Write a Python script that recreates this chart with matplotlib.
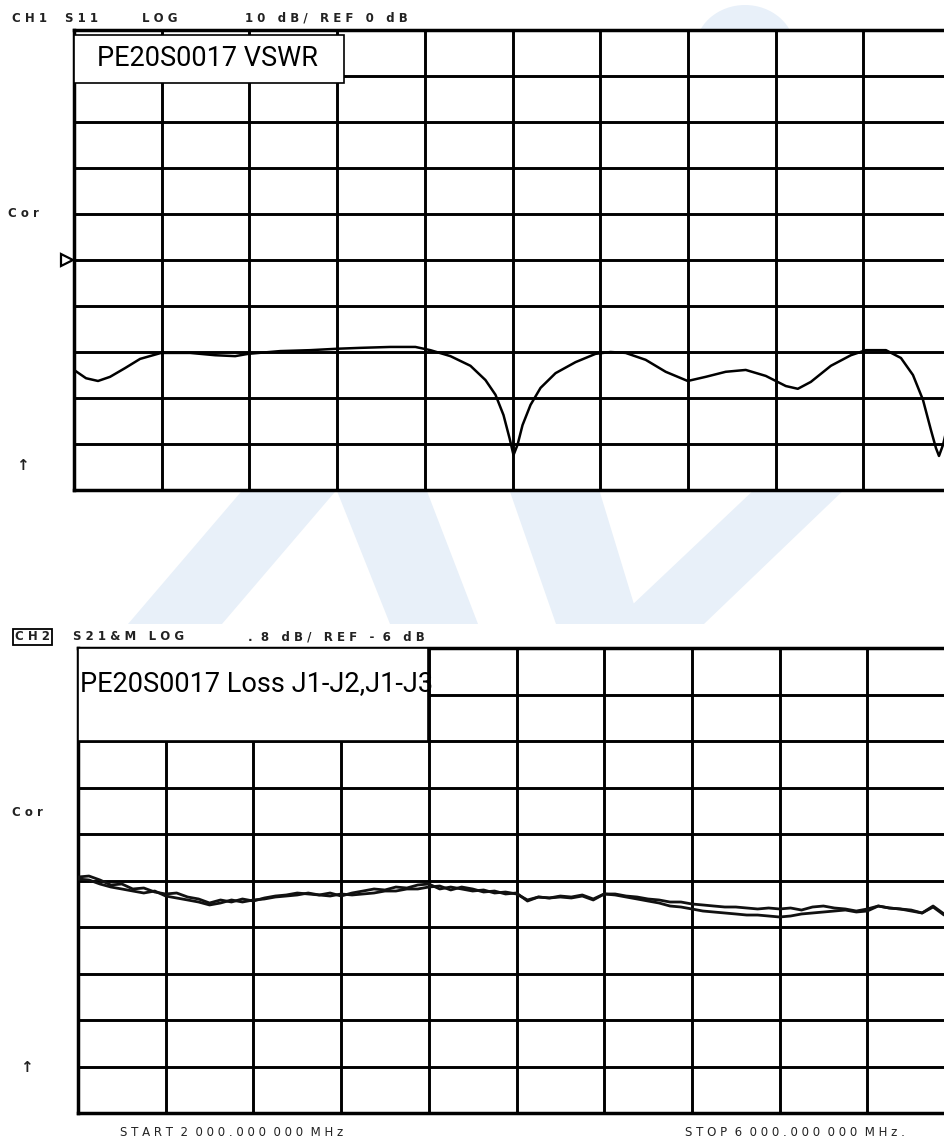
import matplotlib
matplotlib.use("Agg")
import matplotlib.pyplot as plt
from matplotlib.patches import Rectangle, Polygon, Ellipse

# ---------------- data ----------------
# CH1: S11 LOG, 10 dB/div, REF 0 dB
S11_FREQ_MHZ = [2000.0, 2054.8, 2109.6, 2164.4, 2232.9, 2301.4, 2397.3, 2529.7, 2643.8, 2735.2,
                2794.5, 2940.6, 3077.6, 3196.3, 3305.9, 3442.9, 3557.1, 3625.6, 3716.9, 3808.2,
                3876.7, 3922.4, 3958.9, 3986.3, 4004.6, 4022.8, 4045.7, 4082.2, 4127.9, 4196.3,
                4287.7, 4379.0, 4447.5, 4516.0, 4607.3, 4698.6, 4799.1, 4881.3, 4972.6, 5063.9,
                5155.3, 5246.6, 5301.4, 5360.7, 5452.1, 5543.4, 5611.9, 5703.2, 5771.7, 5826.5,
                5872.1, 5908.7, 5931.5, 5945.2, 5963.5, 5981.7]
S11_DB = [-23.9, -25.7, -26.3, -25.4, -23.5, -21.5, -20.2, -20.2, -20.7, -20.9,
          -20.4, -19.8, -19.6, -19.3, -19.1, -18.9, -18.9, -19.6, -20.9, -23.0,
          -26.1, -29.3, -33.7, -38.7, -42.4, -40.2, -35.9, -31.5, -27.8, -24.6,
          -22.2, -20.4, -20.0, -20.2, -21.7, -24.3, -26.3, -25.4, -24.3, -23.9,
          -25.2, -27.4, -28.0, -26.5, -23.0, -20.7, -19.6, -19.6, -21.3, -25.0,
          -30.4, -37.0, -40.9, -42.6, -40.2, -36.5]

# CH2: S21 LOG, .8 dB/div, REF -6 dB, two traces (J1-J2, J1-J3)
S21_FREQ_MHZ = list(range(2000, 6001, 50))
S21_J1J2_DB = [-5.940, -5.923, -5.991, -6.077, -6.060, -6.146, -6.129, -6.198, -6.232, -6.215,
               -6.284, -6.318, -6.387, -6.335, -6.370, -6.318, -6.353, -6.301, -6.267, -6.249,
               -6.215, -6.232, -6.249, -6.215, -6.267, -6.215, -6.181, -6.146, -6.163, -6.112,
               -6.129, -6.077, -6.060, -6.146, -6.112, -6.146, -6.181, -6.163, -6.215, -6.198,
               -6.232, -6.335, -6.284, -6.301, -6.267, -6.284, -6.249, -6.318, -6.232, -6.232,
               -6.267, -6.284, -6.318, -6.335, -6.370, -6.370, -6.404, -6.421, -6.439, -6.456,
               -6.456, -6.473, -6.490, -6.473, -6.490, -6.473, -6.508, -6.456, -6.439, -6.473,
               -6.490, -6.525, -6.490, -6.439, -6.473, -6.490, -6.508, -6.559, -6.439, -6.576,
               -6.542]
S21_J1J3_DB = [-5.974, -5.991, -6.060, -6.112, -6.146, -6.181, -6.215, -6.181, -6.267, -6.301,
               -6.335, -6.370, -6.421, -6.387, -6.335, -6.370, -6.335, -6.318, -6.284, -6.267,
               -6.249, -6.215, -6.249, -6.267, -6.232, -6.249, -6.232, -6.215, -6.181, -6.181,
               -6.146, -6.146, -6.112, -6.095, -6.163, -6.112, -6.146, -6.198, -6.181, -6.232,
               -6.215, -6.353, -6.284, -6.301, -6.284, -6.301, -6.267, -6.335, -6.232, -6.249,
               -6.284, -6.318, -6.353, -6.387, -6.439, -6.456, -6.490, -6.525, -6.542, -6.559,
               -6.576, -6.594, -6.594, -6.611, -6.628, -6.611, -6.576, -6.559, -6.542, -6.525,
               -6.508, -6.542, -6.525, -6.439, -6.473, -6.490, -6.525, -6.559, -6.456, -6.594,
               -6.559]

START_MHZ, STOP_MHZ = 2000, 6000
N_DIV = 10
CH1_REF, CH1_SCALE = 0.0, 10.0
CH2_REF, CH2_SCALE = -6.0, 0.8

TITLE_CH1 = "PE20S0017 VSWR"
TITLE_CH2 = "PE20S0017 Loss J1-J2,J1-J3"

# ---------------- figure ----------------
W, H = 945, 1142
fig = plt.figure(figsize=(W / 100, H / 100), dpi=100)
fig.patch.set_facecolor("white")


def fx(x):
    return x / W


def fy(y):
    return 1 - y / H


def pt(x, y):
    return (fx(x), fy(y))


# watermark (light blue logo shapes, behind axes)
wm = "#e8f0f9"
for poly in [
    [(128, 624), (222, 624), (340, 486), (246, 486)],
    [(335, 486), (425, 486), (478, 624), (390, 624)],
    [(508, 486), (598, 486), (640, 624), (556, 624)],
    [(612, 624), (704, 624), (848, 486), (758, 486)],
]:
    fig.add_artist(Polygon([pt(*p) for p in poly], closed=True, facecolor=wm,
                           edgecolor="none", transform=fig.transFigure, zorder=-5))
fig.add_artist(Ellipse(pt(745, 50), fx(100) - fx(0), fy(0) - fy(90), facecolor=wm,
                       edgecolor="none", transform=fig.transFigure, zorder=-5))


def make_axes(x0, y_top, y_bot, ref, scale):
    ax = fig.add_axes([fx(x0), fy(y_bot), fx(x0 + 87.7 * N_DIV) - fx(x0), fy(y_top) - fy(y_bot)])
    ax.set_facecolor("white")
    ax.set_xlim(START_MHZ, STOP_MHZ)
    lo = ref - scale * N_DIV / 2
    hi = ref + scale * N_DIV / 2
    ax.set_ylim(lo, hi)
    step = (STOP_MHZ - START_MHZ) / N_DIV
    ax.set_xticks([START_MHZ + i * step for i in range(N_DIV + 1)])
    ax.set_yticks([lo + i * scale for i in range(N_DIV + 1)])
    ax.tick_params(length=0, labelbottom=False, labelleft=False)
    ax.grid(True, color="black", linewidth=2.1)
    ax.set_axisbelow(True)
    for s in ax.spines.values():
        s.set_linewidth(2.5)
        s.set_color("black")
    return ax


ax1 = make_axes(74, 30, 490, CH1_REF, CH1_SCALE)
ax1.plot(S11_FREQ_MHZ, S11_DB, color="black", linewidth=1.8, zorder=3)
# reference position marker
ax1.plot([START_MHZ - 7 / 87.7 * 400], [CH1_REF], marker=">", markersize=8,
         markerfacecolor="white", markeredgecolor="black", markeredgewidth=1.6,
         clip_on=False, zorder=5)

ax2 = make_axes(78, 648, 1113, CH2_REF, CH2_SCALE)
ax2.plot(S21_FREQ_MHZ, S21_J1J2_DB, color="#111111", linewidth=2.0, zorder=3)
ax2.plot(S21_FREQ_MHZ, S21_J1J3_DB, color="#111111", linewidth=2.0, zorder=3)

# title boxes
for (x0, y0, x1, y1) in [(74, 35, 344, 83), (78, 648, 428, 741)]:
    fig.add_artist(Rectangle(pt(x0, y1), fx(x1) - fx(x0), fy(y0) - fy(y1),
                             facecolor="white", edgecolor="black", linewidth=1.2,
                             transform=fig.transFigure, zorder=5))
fig.text(fx(97), fy(59), TITLE_CH1, fontsize=19.5, family="Roboto",
         ha="left", va="center", zorder=6)
fig.text(fx(80), fy(684), TITLE_CH2, fontsize=19.5, family="Roboto",
         ha="left", va="center", zorder=6)

# instrument annotation texts
hdr = dict(fontsize=8.5, fontweight="bold", family="DejaVu Sans", va="center",
           ha="left", color="#222222")
fig.text(fx(12), fy(18), "C H 1", **hdr)
fig.text(fx(65), fy(18), "S 1 1", **hdr)
fig.text(fx(142), fy(18), "L O G", **hdr)
fig.text(fx(245), fy(18), "1 0   d B /   R E F   0   d B", **hdr)

fig.text(fx(15), fy(637), "C H 2", bbox=dict(boxstyle="square,pad=0.15",
         facecolor="white", edgecolor="black", linewidth=1.3), **hdr)
fig.text(fx(73), fy(637), "S 2 1 & M   L O G", **hdr)
fig.text(fx(248), fy(637), ".  8   d B /   R E F   -  6   d B", **hdr)

fig.text(fx(8), fy(213), "C o r", **hdr)
fig.text(fx(12), fy(812), "C o r", **hdr)
fig.text(fx(22), fy(466), "↑", fontsize=11, fontweight="bold", ha="center",
         va="center", color="#222222")
fig.text(fx(26), fy(1068), "↑", fontsize=11, fontweight="bold", ha="center",
         va="center", color="#222222")

ftr = dict(fontsize=8.5, family="DejaVu Sans", va="center", ha="left", color="#222222")
fig.text(fx(120), fy(1133), "S T A R T  2  0 0 0 . 0 0 0  0 0 0  M H z", **ftr)
fig.text(fx(685), fy(1133), "S T O P  6  0 0 0 . 0 0 0  0 0 0  M H z .", **ftr)

fig.savefig("out.png", dpi=100, facecolor="white")
